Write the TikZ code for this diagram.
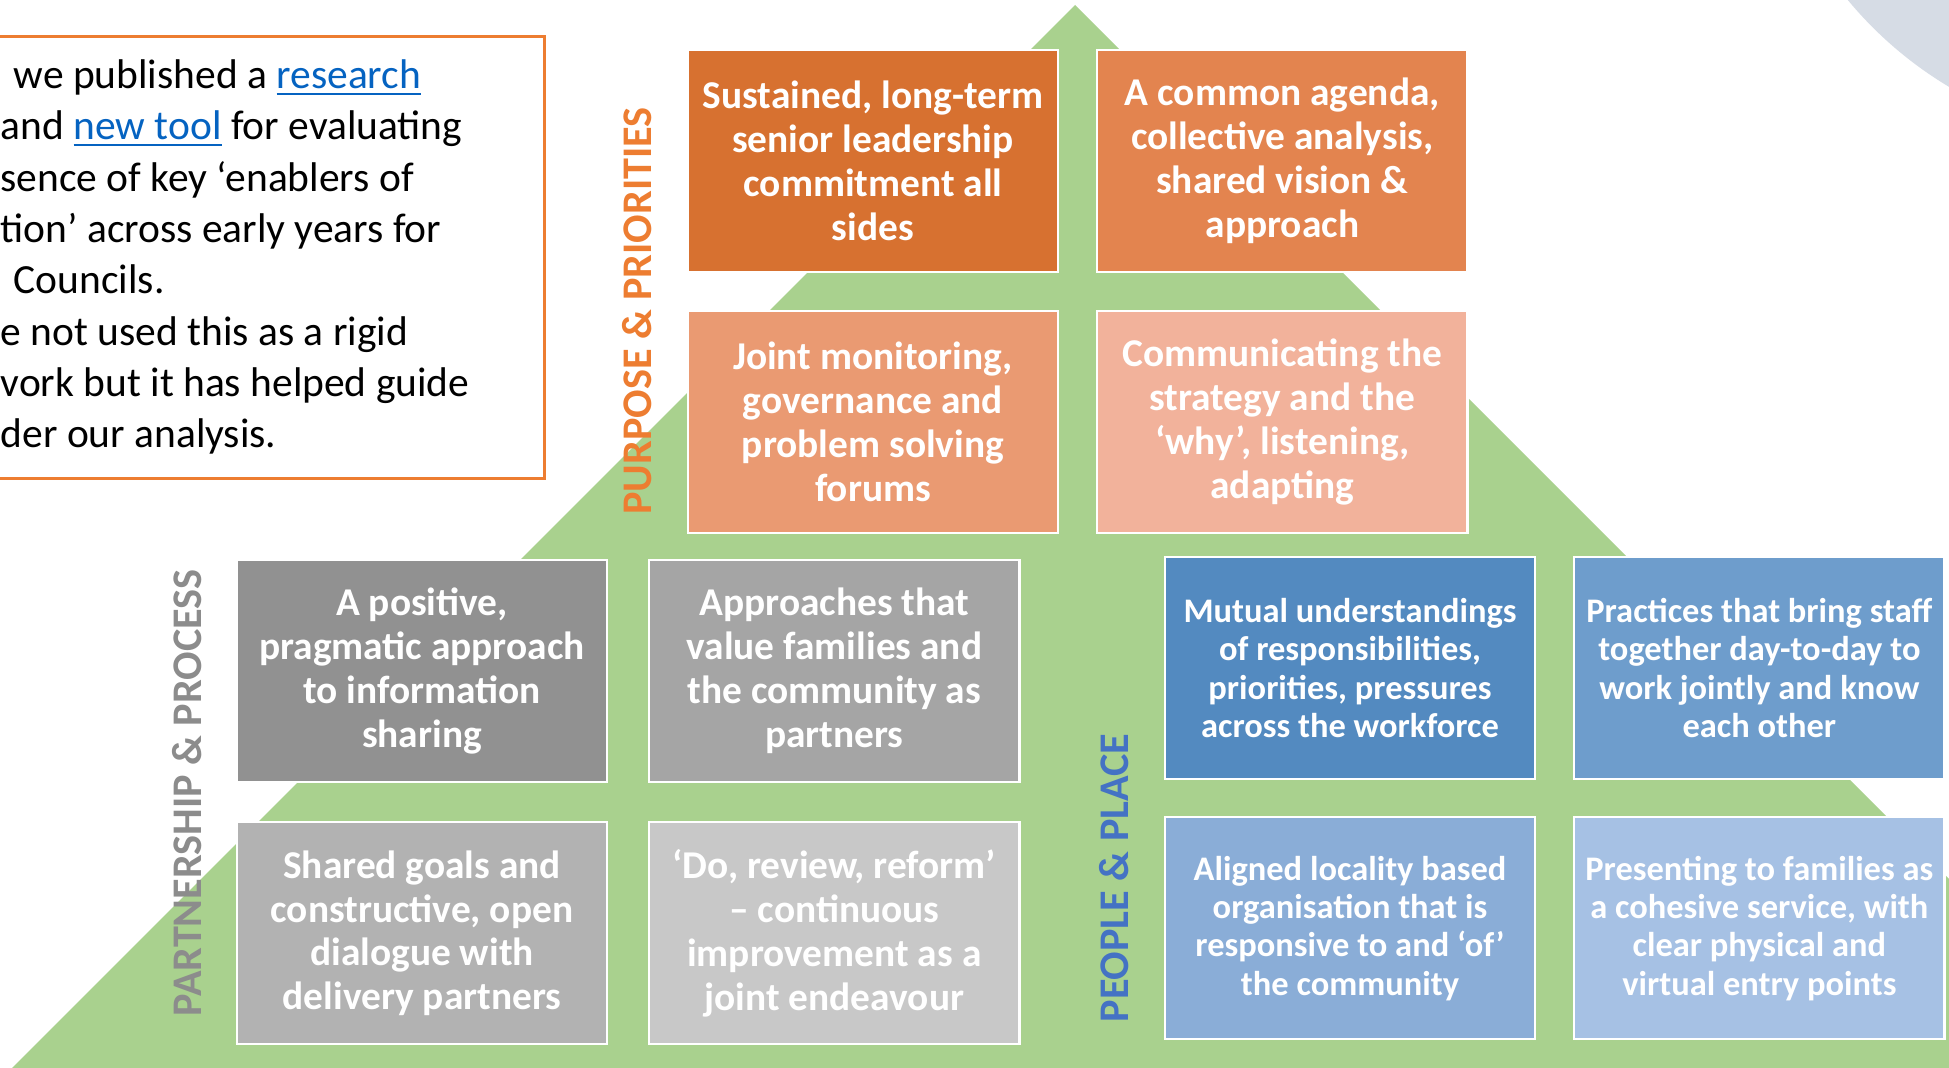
\documentclass[tikz,border=0pt]{standalone}
\usepackage{fontspec}
\setmainfont{Carlito}
\usetikzlibrary{positioning}

\definecolor{pyrgreen}{HTML}{A9D18E}
\definecolor{accorange}{HTML}{ED7D31}
\definecolor{accblue}{HTML}{4472C4}
\definecolor{accgrey}{HTML}{8C8C8C}
\definecolor{linkblue}{HTML}{0563C1}
\definecolor{orA}{HTML}{D77130}
\definecolor{orB}{HTML}{E3844F}
\definecolor{orC}{HTML}{EA9A72}
\definecolor{orD}{HTML}{F2B29B}
\definecolor{grA}{HTML}{919191}
\definecolor{grB}{HTML}{A5A5A5}
\definecolor{grC}{HTML}{B2B2B2}
\definecolor{grD}{HTML}{C8C8C8}
\definecolor{blA}{HTML}{538AC0}
\definecolor{blB}{HTML}{6E9DCC}
\definecolor{blC}{HTML}{8AADD7}
\definecolor{blD}{HTML}{A6C1E4}
\definecolor{haze}{HTML}{D6DCE5}

\newcommand{\weblink}[1]{\textcolor{linkblue}{\underline{#1}}}

\begin{document}
\begin{tikzpicture}[
    x=0.01cm, y=-0.01cm,
    tile/.style={draw=white, line width=0.6pt, minimum width=3.7cm, minimum height=2.22cm, inner sep=0pt, align=center, text=white, font=\bfseries\fontsize{11.2}{12.5}\selectfont},
    smalltile/.style={tile, font=\bfseries\fontsize{9.8}{10.9}\selectfont},
    pillar/.style={rotate=90, inner sep=0pt, font=\bfseries\fontsize{12}{14}\selectfont},
    introbox/.style={draw=accorange, line width=0.75pt, fill=white, minimum width=5.8cm, minimum height=4.42cm},
    introtext/.style={align=left, inner sep=0pt, font=\fontsize{11.8}{14.6}\selectfont}
]
    \useasboundingbox (0,0) rectangle (1949,1068);
    \clip (0,0) rectangle (1949,1068);

    % Backdrop
    \fill[haze] (2150,-250) circle[radius=3.92cm];
    \fill[pyrgreen] (1075,5) -- (10,1070) -- (2140,1070) -- cycle;

    % Intro note (base = last line)
    \node[introbox, anchor=north east] (intro) at (546,35) {};
    \node[introtext, anchor=base west] (introtxt) at (0,448) {\hspace*{0.13cm}we published a \weblink{research}\\
        and \weblink{new tool} for evaluating\\
        sence of key ‘enablers of\\
        tion’ across early years for\\
        \hspace*{0.13cm}Councils.\\
        e not used this as a rigid\\
        vork but it has helped guide\\
        der our analysis.};

    % Purpose & priorities
    \node[tile, fill=orA] (lead) at (873,161) {Sustained, long-term\\senior leadership\\commitment all\\sides};
    \node[tile, fill=orB, right=0.37cm of lead] (agenda) {A common agenda,\\collective analysis,\\shared vision \&\\approach};
    \node[tile, fill=orC, below=0.37cm of lead] (monitor) {Joint monitoring,\\governance and\\problem solving\\forums};
    \node[tile, fill=orD, right=0.37cm of monitor] (comms) {Communicating the\\strategy and the\\‘why’, listening,\\adapting};
    \node[pillar, text=accorange] (purpose) at (637,311) {PURPOSE \& PRIORITIES};

    % Partnership & process
    \node[tile, fill=grA] (infoshare) at (422,671) {A positive,\\pragmatic approach\\to information\\sharing};
    \node[tile, fill=grB, right=0.40cm of infoshare] (families) {Approaches that\\value families and\\the community as\\partners};
    \node[tile, fill=grC, below=0.38cm of infoshare] (goals) {Shared goals and\\constructive, open\\dialogue with\\delivery partners};
    \node[tile, fill=grD, right=0.40cm of goals] (review) {‘Do, review, reform’\\– continuous\\improvement as a\\joint endeavour};
    \node[pillar, text=accgrey] (partner) at (187,793) {PARTNERSHIP \& PROCESS};

    % People & place
    \node[smalltile, fill=blA] (mutual) at (1350,668) {Mutual understandings\\of responsibilities,\\priorities, pressures\\across the workforce};
    \node[smalltile, fill=blB, right=0.37cm of mutual] (practice) {Practices that bring staff\\together day-to-day to\\work jointly and know\\each other};
    \node[smalltile, fill=blC, below=0.36cm of mutual] (locality) {Aligned locality based\\organisation that is\\responsive to and ‘of’\\the community};
    \node[smalltile, fill=blD, right=0.37cm of locality] (presenting) {Presenting to families as\\a cohesive service, with\\clear physical and\\virtual entry points};
    \node[pillar, text=accblue] (people) at (1114,878) {PEOPLE \& PLACE};

\end{tikzpicture}
\end{document}
